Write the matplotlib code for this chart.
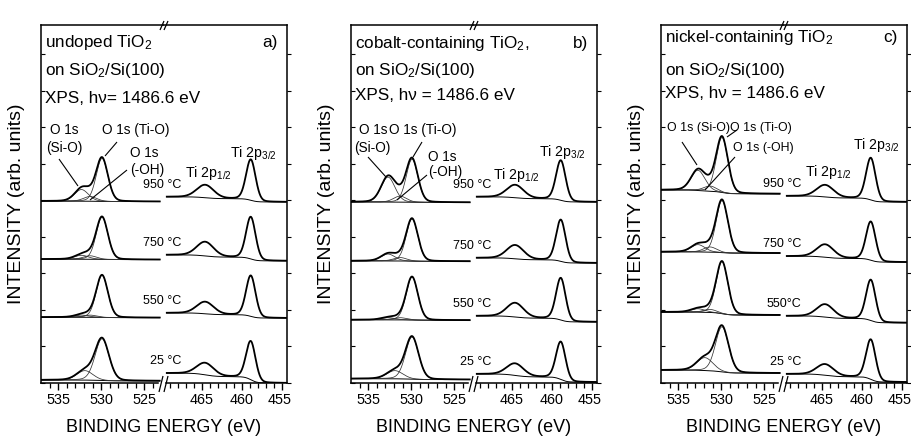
import numpy as np
import matplotlib
matplotlib.use('Agg')
import matplotlib.pyplot as plt
from matplotlib.lines import Line2D
from matplotlib.ticker import MultipleLocator, FixedLocator
from matplotlib.transforms import ScaledTranslation
from matplotlib import font_manager

fams = {f.name for f in font_manager.fontManager.ttflist}
BASE = 'Liberation Sans' if 'Liberation Sans' in fams else 'DejaVu Sans'
plt.rcParams['font.family'] = [BASE, 'DejaVu Sans']
plt.rcParams['mathtext.fontset'] = 'custom'
plt.rcParams['mathtext.rm'] = BASE
plt.rcParams['mathtext.it'] = BASE + ':italic'

# ---------------- data ----------------
temps = ['25 °C', '550 °C', '750 °C', '950 °C']
temps_c = ['25 °C', '550°C', '750 °C', '950 °C']

# component energies (eV)
tio_pos = 529.9
sio_pos = [532.3, 532.7, 532.7]          # per panel a, b, c
oh_pos = [531.9, 531.3, 531.3, 531.3]    # per temperature
oh_w = [2.2, 1.8, 1.8, 1.8]
sio_w = 1.9
ti32_pos = 458.9
ti12_pos = 464.6
ti32_w = 1.4
ti12_w = 2.5

# panel a) undoped TiO2
a_obase_hi = [0.07, 1.53, 2.88, 4.23]
a_obase_lo = [0.05, 1.52, 2.87, 4.22]
a_tio_h = [0.97, 0.98, 0.98, 1.00]
a_tio_w = [1.9, 1.6, 1.6, 1.6]
a_sio_h = [0.00, 0.05, 0.09, 0.27]
a_oh_h = [0.22, 0.05, 0.08, 0.11]
a_tibase_hi = [0.23, 1.63, 2.98, 4.33]
a_tibase_lo = [0.00, 1.51, 2.84, 4.21]
a_ti32_h = [0.90, 0.95, 0.98, 0.95]
a_ti12_h = [0.28, 0.28, 0.33, 0.30]

# panel b) cobalt-containing TiO2
b_obase_hi = [0.10, 1.47, 2.84, 4.21]
b_obase_lo = [0.08, 1.46, 2.83, 4.20]
b_tio_h = [0.98, 1.00, 0.98, 1.00]
b_tio_w = [1.8, 1.6, 1.6, 1.6]
b_sio_h = [0.00, 0.05, 0.16, 0.58]
b_oh_h = [0.19, 0.05, 0.08, 0.14]
b_tibase_hi = [0.21, 1.56, 2.91, 4.33]
b_tibase_lo = [0.02, 1.42, 2.79, 4.21]
b_ti32_h = [0.88, 0.98, 0.97, 0.93]
b_ti12_h = [0.28, 0.33, 0.32, 0.30]

# panel c) nickel-containing TiO2
c_obase_hi = [0.30, 1.65, 3.05, 4.49]
c_obase_lo = [0.23, 1.58, 3.02, 4.40]
c_tio_h = [1.05, 1.21, 1.21, 1.28]
c_tio_w = [1.8, 1.6, 1.6, 1.6]
c_sio_h = [0.00, 0.08, 0.17, 0.47]
c_oh_h = [0.30, 0.07, 0.12, 0.12]
c_tibase_hi = [0.21, 1.56, 2.95, 4.35]
c_tibase_lo = [0.02, 1.40, 2.81, 4.21]
c_ti32_h = [0.93, 0.95, 0.90, 0.98]
c_ti12_h = [0.26, 0.30, 0.30, 0.28]

o_range = (537.0, 523.2)
ti_range = (469.4, 454.5)

titles_a = ['undoped TiO$_2$', 'on SiO$_2$/Si(100)', 'XPS, h\u03bd= 1486.6 eV']
titles_b = ['cobalt-containing TiO$_2$,', 'on SiO$_2$/Si(100)', 'XPS, h\u03bd = 1486.6 eV']
titles_c = ['nickel-containing TiO$_2$', 'on SiO$_2$/Si(100)', 'XPS, h\u03bd = 1486.6 eV']

# ---------------- helpers ----------------
W, H = 912, 438
fig = plt.figure(figsize=(W / 100, H / 100), dpi=100)


def fx(x):
    return x / W


def fy(y):
    return 1 - y / H


def pline(p0, p1, lw=0.9):
    fig.add_artist(Line2D([fx(p0[0]), fx(p1[0])], [fy(p0[1]), fy(p1[1])],
                          transform=fig.transFigure, color='k', lw=lw,
                          solid_capstyle='butt'))


def peak(E, c, h, w, eta=0.15):
    x = (E - c) / w
    return h * ((1 - eta) * np.exp(-4 * np.log(2) * x ** 2) + eta / (1 + 4 * x ** 2))


def shirley(E, total, hi, lo):
    s = np.cumsum(total[::-1])
    s = s / s[-1]
    return lo + (hi - lo) * s[::-1]


TOP, BOT = 25, 383
PXU = 43.0
YMAX = (BOT - TOP) / PXU
LW_ENV, LW_COMP = 1.3, 0.55


def draw_panel(L, idx, obase_hi, obase_lo, tio_h, tio_w, sio_h, oh_h,
               tibase_hi, tibase_lo, ti32_h, ti12_h, tlabels, titles, tag,
               title_y, tag_y, labels, leaders, ofs):
    wl, wr = 122, 124
    axL = fig.add_axes([fx(L), fy(BOT), wl / W, (BOT - TOP) / H])
    axR = fig.add_axes([fx(L + wl), fy(BOT), wr / W, (BOT - TOP) / H])
    axL.set_xlim(537.0, 537.0 - wl / 8.6)
    axR.set_xlim(465 + 39 / 8.0, 465 + 39 / 8.0 - wr / 8.0)
    for ax in (axL, axR):
        ax.set_ylim(0, YMAX)
        ax.patch.set_alpha(0)
        for s in ax.spines.values():
            s.set_linewidth(1.1)
        ax.tick_params(axis='x', which='major', direction='out', length=5,
                       width=1.0, labelsize=10.4, pad=2, top=False)
        ax.tick_params(axis='x', which='minor', direction='out', length=3.5,
                       width=0.9, top=False)
    axL.spines['right'].set_visible(False)
    axR.spines['left'].set_visible(False)
    axL.set_xticks([535, 530, 525])
    axR.set_xticks([465, 460, 455])
    axL.spines['bottom'].set_bounds(537.0, 537.0 - 117 / 8.6)
    axR.spines['bottom'].set_bounds(465 + 39 / 8.0 - 3 / 8.0, 465 + 39 / 8.0 - wr / 8.0)
    axL.yaxis.set_major_locator(MultipleLocator(0.85))
    axR.yaxis.set_major_locator(MultipleLocator(0.85))
    axL.tick_params(axis='y', direction='in', length=3, width=0.8,
                    labelleft=False, right=False)
    axR.yaxis.set_ticks_position('right')
    axR.tick_params(axis='y', direction='out', length=3, width=0.8,
                    left=False, labelleft=False, labelright=False)
    axL.xaxis.set_minor_locator(FixedLocator(np.arange(524, 537, 1.0)))
    axR.xaxis.set_minor_locator(FixedLocator(np.arange(455, 470, 1.0)))
    # keep the last tick label inside the figure
    last = axR.get_xticklabels()[-1]
    last.set_transform(last.get_transform() +
                       ScaledTranslation(-2.5 / 100, 0, fig.dpi_scale_trans))

    Eo = np.linspace(o_range[0], o_range[1], 500)
    Et = np.linspace(ti_range[0], ti_range[1], 500)
    for k in range(4):
        comps = [peak(Eo, tio_pos, tio_h[k], tio_w[k])]
        if sio_h[k] > 0:
            comps.append(peak(Eo, sio_pos[idx], sio_h[k], sio_w))
        if oh_h[k] > 0:
            comps.append(peak(Eo, oh_pos[k], oh_h[k], oh_w[k]))
        tot = np.sum(comps, axis=0)
        bg = shirley(Eo, tot + 1e-4, obase_hi[k], obase_lo[k])
        axL.plot(Eo, bg, color='k', lw=0.7)
        for cp in comps:
            axL.plot(Eo, bg + cp, color='#333333', lw=LW_COMP)
        axL.plot(Eo, bg + tot, color='k', lw=LW_ENV)

        t3 = peak(Et, ti32_pos, ti32_h[k], ti32_w)
        t1 = peak(Et, ti12_pos, ti12_h[k], ti12_w)
        ttot = t3 + t1
        tbg = shirley(Et, ttot + 1e-4, tibase_hi[k], tibase_lo[k])
        axR.plot(Et, tbg, color='k', lw=0.7)
        axR.plot(Et, tbg + ttot, color='k', lw=LW_ENV)
        axR.text(467.6, tibase_hi[k] + 0.28, tlabels[k], ha='right',
                 va='center', fontsize=9)

    # break marks
    xb = L + wl
    pline((xb - 3, 30), (xb + 1, 21))
    pline((xb + 1, 30), (xb + 5, 21))
    pline((xb - 4, 392), (xb, 376))
    pline((xb + 1, 392), (xb + 5, 376))

    # titles
    for t, yy in zip(titles, title_y):
        fig.text(fx(L + 4), fy(yy), t, ha='left', va='baseline', fontsize=12.3)
    fig.text(fx(L + 246 - 9), fy(tag_y), tag, ha='right', va='baseline',
             fontsize=12.3)
    for s, x, y, ha in labels:
        fs = 10.2 if s.startswith('Ti') else ofs
        fig.text(fx(x), fy(y), s, ha=ha, va='center', fontsize=fs)
    for p0, p1 in leaders:
        pline(p0, p1, lw=0.8)

    fig.text(fx(L - 24), fy((TOP + BOT) / 2), 'INTENSITY (arb. units)',
             rotation=90, ha='center', va='center', fontsize=14)
    fig.text(fx(L + 123), fy(427), 'BINDING ENERGY (eV)', ha='center',
             va='center', fontsize=13)


labels_a = [("O 1s", 64, 130, 'center'), ("(Si-O)", 64, 148, 'center'),
            ("O 1s (Ti-O)", 102, 130, 'left'), ("O 1s", 130, 153, 'left'),
            ("(-OH)", 130, 170, 'left'), ("Ti 2p$_{1/2}$", 185, 173, 'left'),
            ("Ti 2p$_{3/2}$", 230, 153, 'left')]
leaders_a = [((59, 159), (78, 186)), ((117, 142), (105, 156)), ((127, 170), (90, 200))]

labels_b = [("O 1s", 373, 130, 'center'), ("(Si-O)", 372, 148, 'center'),
            ("O 1s (Ti-O)", 389, 130, 'left'), ("O 1s", 428, 157, 'left'),
            ("(-OH)", 428, 172, 'left'), ("Ti 2p$_{1/2}$", 493, 175, 'left'),
            ("Ti 2p$_{3/2}$", 539, 152, 'left')]
leaders_b = [((368, 157), (386, 177)), ((422, 142), (413, 157)), ((427, 175), (397, 200))]

labels_c = [("O 1s (Si-O)", 667, 128, 'left'), ("O 1s (Ti-O)", 730, 128, 'left'),
            ("O 1s (-OH)", 733, 148, 'left'), ("Ti 2p$_{1/2}$", 805, 172, 'left'),
            ("Ti 2p$_{3/2}$", 853, 145, 'left')]
leaders_c = [((682, 142), (697, 165)), ((727, 137), (737, 130)), ((735, 157), (705, 190))]

draw_panel(41, 0, a_obase_hi, a_obase_lo, a_tio_h, a_tio_w, a_sio_h, a_oh_h,
           a_tibase_hi, a_tibase_lo, a_ti32_h, a_ti12_h, temps, titles_a, 'a)',
           [47, 75, 103], 47, labels_a, leaders_a, 9.8)
draw_panel(351, 1, b_obase_hi, b_obase_lo, b_tio_h, b_tio_w, b_sio_h, b_oh_h,
           b_tibase_hi, b_tibase_lo, b_ti32_h, b_ti12_h, temps, titles_b, 'b)',
           [48, 75, 100], 48, labels_b, leaders_b, 9.8)
draw_panel(661, 2, c_obase_hi, c_obase_lo, c_tio_h, c_tio_w, c_sio_h, c_oh_h,
           c_tibase_hi, c_tibase_lo, c_ti32_h, c_ti12_h, temps_c, titles_c, 'c)',
           [42, 75, 98], 42, labels_c, leaders_c, 8.9)

fig.savefig('out.png', dpi=100)
